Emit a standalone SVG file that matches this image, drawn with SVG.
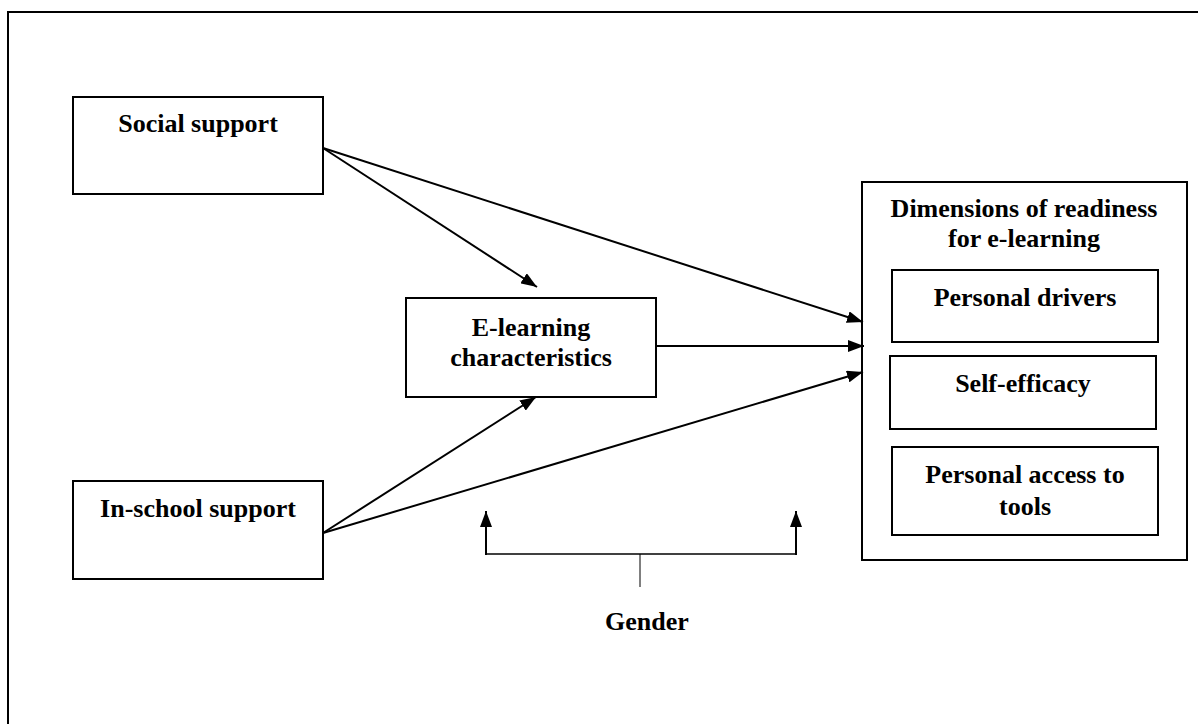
<svg xmlns="http://www.w3.org/2000/svg" width="1198" height="724" viewBox="0 0 1198 724">
<style>
  .box { fill: #fff; stroke: #000; stroke-width: 2; }
  .t { font-family: "Liberation Serif", "Times New Roman", serif; font-weight: bold; font-size: 26px; fill: #000; text-anchor: middle; }
  .c { stroke: #000; stroke-width: 2; fill: none; }
</style>
<defs>
  <marker id="ah" markerWidth="16" markerHeight="12" refX="16" refY="6" orient="auto" markerUnits="userSpaceOnUse">
    <path d="M0,0 L16,6 L0,12 Z" fill="#000"/>
  </marker>
</defs>
<rect x="0" y="0" width="1198" height="724" fill="#fff"/>
<rect id="frame" x="8" y="12" width="1220" height="740" fill="none" stroke="#000" stroke-width="2"/>

<g id="social">
  <rect class="box" x="73" y="97" width="250" height="97"/>
  <text class="t" x="198" y="132">Social support</text>
</g>
<g id="inschool">
  <rect class="box" x="73" y="481" width="250" height="98"/>
  <text class="t" x="198" y="517">In-school support</text>
</g>
<g id="elearning">
  <rect class="box" x="406" y="298" width="250" height="99"/>
  <text class="t" x="531" y="336">E-learning</text>
  <text class="t" x="531" y="366">characteristics</text>
</g>
<g id="dimensions">
  <rect class="box" x="862" y="182" width="325" height="378"/>
  <text class="t" x="1024" y="217">Dimensions of readiness</text>
  <text class="t" x="1024" y="247">for e-learning</text>
</g>
<g id="drivers">
  <rect class="box" x="892" y="270" width="266" height="72"/>
  <text class="t" x="1025" y="306">Personal drivers</text>
</g>
<g id="selfefficacy">
  <rect class="box" x="890" y="356" width="266" height="73"/>
  <text class="t" x="1023" y="392">Self-efficacy</text>
</g>
<g id="access">
  <rect class="box" x="892" y="447" width="266" height="88"/>
  <text class="t" x="1025" y="483">Personal access to</text>
  <text class="t" x="1025" y="515">tools</text>
</g>
<g id="gender">
  <text class="t" x="647" y="630">Gender</text>
</g>

<g id="connectors">
  <line class="c" x1="323" y1="148" x2="537" y2="287" marker-end="url(#ah)"/>
  <line class="c" x1="323" y1="148" x2="863" y2="322" marker-end="url(#ah)"/>
  <line class="c" x1="656" y1="346" x2="864" y2="346" marker-end="url(#ah)"/>
  <line class="c" x1="323" y1="533" x2="536" y2="397" marker-end="url(#ah)"/>
  <line class="c" x1="323" y1="533" x2="863" y2="372" marker-end="url(#ah)"/>
  <line class="c" x1="486" y1="555" x2="486" y2="511" marker-end="url(#ah)"/>
  <line class="c" x1="796" y1="555" x2="796" y2="511" marker-end="url(#ah)"/>
  <line x1="485" y1="554" x2="797" y2="554" stroke="#000" stroke-width="1.5"/>
  <line x1="640" y1="554" x2="640" y2="587" stroke="#000" stroke-width="1"/>
</g>
</svg>
